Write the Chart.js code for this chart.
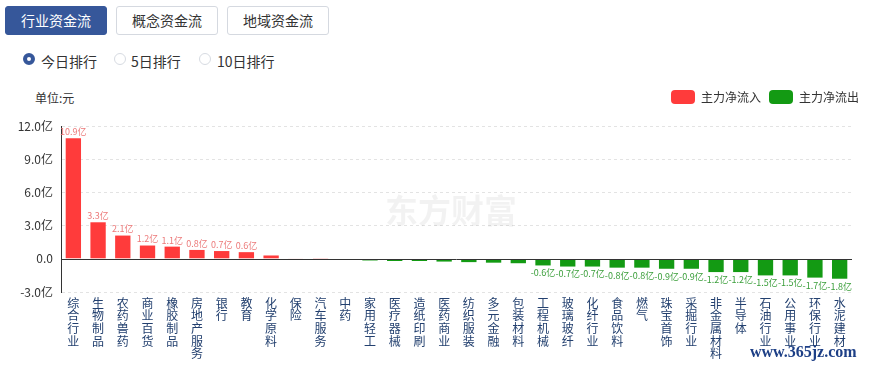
<!DOCTYPE html>
<html>
<head>
<meta charset="utf-8">
<script src="https://cdn.jsdelivr.net/npm/chart.js@4.4.1/dist/chart.umd.min.js"></script>
<style>
  html, body { margin:0; padding:0; background:#fff; width:873px; height:370px; overflow:hidden;
    font-family:"Noto Sans CJK SC","Microsoft YaHei",sans-serif; }
  .btn { position:absolute; top:6px; height:29px; width:102px; box-sizing:border-box;
    border:1px solid #d5d9e0; border-radius:3px; background:#fff; color:#333;
    font-size:14px; line-height:27px; text-align:center; }
  .btn.active { background:#36579a; border-color:#36579a; color:#fff; }
  .radio { position:absolute; top:52px; font-size:14px; color:#333; line-height:18px; }
  .dot { position:absolute; top:53px; width:12px; height:12px; border-radius:50%; box-sizing:border-box;
    border:1px solid #d7dbe2; background:#fff; }
  .dot.on { border:4px solid #36579a; }
  #unit { position:absolute; left:35px; top:89px; font-size:12px; color:#333; }
  #wrap { position:absolute; left:0; top:82px; width:873px; height:288px; }
  #site { position:absolute; left:750px; top:343px; font-family:"Liberation Serif","Times New Roman",serif;
    font-size:16px; font-weight:bold; color:#1d3f86; }
</style>
</head>
<body>
<div class="btn active" style="left:5px;">行业资金流</div>
<div class="btn" style="left:116px;">概念资金流</div>
<div class="btn" style="left:227px;">地域资金流</div>
<div class="dot on" style="left:23px;"></div><div class="radio" style="left:41px;">今日排行</div>
<div class="dot" style="left:114px;"></div><div class="radio" style="left:131px;">5日排行</div>
<div class="dot" style="left:199px;"></div><div class="radio" style="left:217px;">10日排行</div>
<div id="unit">单位:元</div>
<div id="wrap"><canvas id="c" width="873" height="288"></canvas></div>
<div id="site">www.365jz.com</div>
<script>
const categories = ['综合行业','生物制品','农药兽药','商业百货','橡胶制品','房地产服务','银行','教育','化学原料','保险',
  '汽车服务','中药','家用轻工','医疗器械','造纸印刷','医药商业','纺织服装','多元金融','包装材料','工程机械',
  '玻璃玻纤','化纤行业','食品饮料','燃气','珠宝首饰','采掘行业','非金属材料','半导体','石油行业','公用事业',
  '环保行业','水泥建材'];
const netFlow = [10.9, 3.3, 2.1, 1.2, 1.1, 0.8, 0.7, 0.6, 0.3, 0.05,
  0.03, -0.03, -0.15, -0.2, -0.2, -0.25, -0.3, -0.35, -0.4, -0.6,
  -0.7, -0.7, -0.8, -0.8, -0.9, -0.9, -1.2, -1.2, -1.5, -1.5,
  -1.7, -1.8];
const yTicks = [-3, 0, 3, 6, 9, 12];
const seriesNames = ['主力净流入', '主力净流出'];

const inflow = netFlow.map(v => v > 0 ? v : null);
const outflow = netFlow.map(v => v < 0 ? v : null);

const legendGap = {
  id: 'legendGap',
  beforeUpdate(chart) {
    const lg = chart.legend;
    if (lg && !lg._patched) {
      const orig = lg.fit;
      lg.fit = function () { orig.call(this); this.height += 12; };
      lg._patched = true;
    }
  }
};

const labelPlugin = {
  id: 'valueLabels',
  beforeDatasetsDraw(chart) {
    const ctx = chart.ctx;
    ctx.save();
    ctx.font = 'bold 33px "Noto Sans CJK SC"';
    ctx.fillStyle = 'rgba(0,0,0,0.05)';
    ctx.textBaseline = 'middle';
    ctx.fillText('东方财富', 385, 128);
    ctx.restore();
  },
  afterDatasetsDraw(chart) {
    const ctx = chart.ctx;
    const y = chart.scales.y, a = chart.chartArea;
    ctx.save();
    ctx.strokeStyle = '#333';
    ctx.lineWidth = 1;
    const zy = Math.round(y.getPixelForValue(0)) + 0.5;
    ctx.beginPath(); ctx.moveTo(a.left, zy); ctx.lineTo(a.right, zy); ctx.stroke();
    ctx.font = '9px "Noto Sans CJK SC"';
    ctx.textAlign = 'center';
    chart.data.datasets.forEach((ds, di) => {
      const meta = chart.getDatasetMeta(di);
      meta.data.forEach((bar, i) => {
        const v = ds.data[i];
        if (v == null || Math.abs(v) < 0.5) return;
        const txt = v.toFixed(1) + '亿';
        if (v > 0) {
          ctx.fillStyle = '#ec7a7a';
          ctx.textBaseline = 'bottom';
          ctx.fillText(txt, bar.x, bar.y - 2);
        } else {
          ctx.fillStyle = '#3a9e3a';
          ctx.textBaseline = 'top';
          ctx.fillText(txt, bar.x, bar.y + 3);
        }
      });
    });
    ctx.restore();
  }
};

new Chart(document.getElementById('c'), {
  type: 'bar',
  data: {
    labels: categories.map(s => s.split('')),
    datasets: [
      { label: seriesNames[0], data: inflow, backgroundColor: '#ff3b3b', borderWidth: 0,
        barPercentage: 0.62, categoryPercentage: 1 },
      { label: seriesNames[1], data: outflow, backgroundColor: '#139a13', borderWidth: 0,
        barPercentage: 0.62, categoryPercentage: 1 }
    ]
  },
  options: {
    responsive: false,
    animation: false,
    layout: { padding: { left: 0, right: 6, top: 0, bottom: 0 } },
    plugins: {
      tooltip: { enabled: false },
      legend: {
        position: 'top', align: 'end',
        labels: {
          boxWidth: 24, boxHeight: 14, useBorderRadius: true, borderRadius: 4,
          color: '#333', font: { size: 12, family: '"Noto Sans CJK SC"' }, padding: 8
        }
      }
    },
    scales: {
      x: {
        stacked: true,
        grid: { display: false, drawTicks: false },
        border: { display: false },
        ticks: {
          autoSkip: false, maxRotation: 0, minRotation: 0, padding: 5,
          color: '#23406f', font: { size: 12, family: '"Noto Sans CJK SC"', lineHeight: 1.05 }
        },
        afterFit(s) { s.height = 78; }
      },
      y: {
        stacked: true,
        min: -3, max: 12,
        afterBuildTicks(s) { s.ticks = yTicks.map(v => ({ value: v })); },
        grid: {
          color: c => (c.tick && c.tick.value === 0) ? 'rgba(0,0,0,0)' : '#e3e3e3',
          drawTicks: false
        },
        border: { display: true, color: '#333', width: 1, dash: [3, 3] },
        ticks: {
          padding: 8, color: '#333', font: { size: 12, family: '"Noto Sans CJK SC"' },
          callback: v => v === 0 ? '0.0' : v.toFixed(1) + '亿'
        },
        afterFit(s) { s.width = 61; }
      },
      yPad: {
        position: 'right', display: true,
        grid: { display: false, drawTicks: false },
        border: { display: false },
        ticks: { display: false },
        afterFit(s) { s.width = 15; }
      }
    }
  },
  plugins: [legendGap, labelPlugin]
});
</script>
</body>
</html>
